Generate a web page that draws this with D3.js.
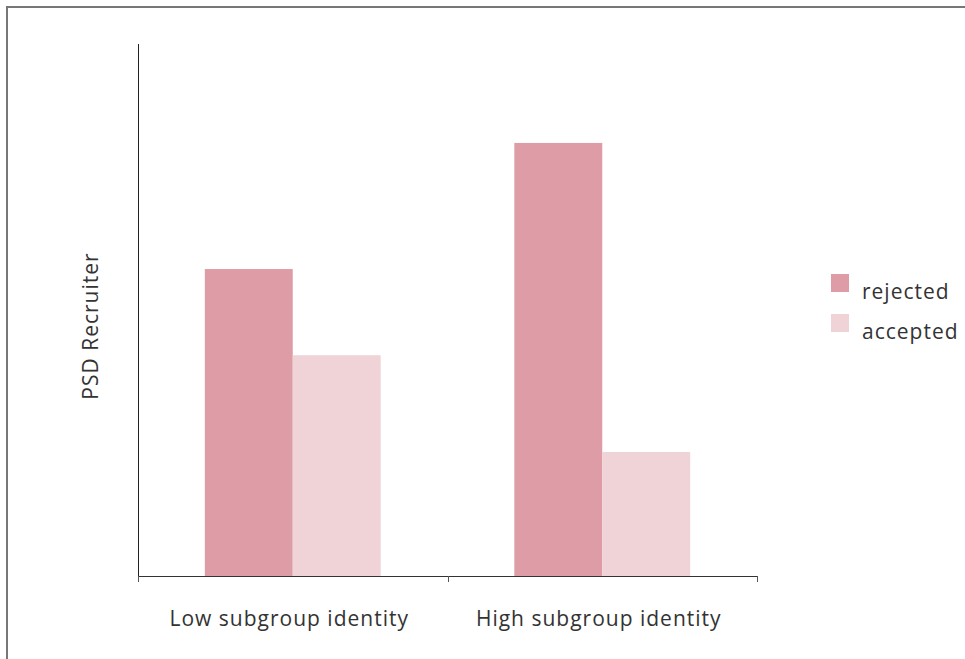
<!DOCTYPE html>
<html><head><meta charset="utf-8">
<script src="https://cdn.jsdelivr.net/npm/d3@7"></script>
<style>body{margin:0;background:#fff}svg{display:block}text{font-family:"Open Sans",sans-serif;fill:#333;letter-spacing:1px}</style>
</head><body>
<script>
const categories = ["Low subgroup identity", "High subgroup identity"];
const seriesNames = ["rejected", "accepted"];
const rejected = [0.577, 0.814];
const accepted = [0.415, 0.233];
const colors = ["#dd9ca6", "#f0d3d7"];
const yLabel = "PSD Recruiter";

(function () {
const W = 965, H = 659;
const svg = d3.select("body").append("svg").attr("width", W).attr("height", H);

// frame
svg.append("rect").attr("x", 7).attr("y", 7).attr("width", 1000).attr("height", 1000)
  .attr("fill", "none").attr("stroke", "#777").attr("stroke-width", 2);

const mLeft = 138, mRight = 757, mTop = 44, mBottom = 576;
const x = d3.scaleBand().domain(categories).range([mLeft, mRight]).paddingInner(0).paddingOuter(0);
const x1 = d3.scaleBand().domain(seriesNames).range([0, x.bandwidth()]).paddingInner(0).paddingOuter(0.76);
const y = d3.scaleLinear().domain([0, 1]).range([mBottom, mTop]);

const data = categories.map((c, i) => ({cat: c, vals: [rejected[i], accepted[i]]}));
const g = svg.append("g");
data.forEach(d => {
  d.vals.forEach((v, j) => {
    g.append("rect")
      .attr("x", x(d.cat) + x1(seriesNames[j]))
      .attr("y", y(v))
      .attr("width", x1.bandwidth())
      .attr("height", y(0) - y(v))
      .attr("fill", colors[j]);
  });
});

// axes
const xAxis = svg.append("g").attr("transform", `translate(0,${mBottom})`);
xAxis.append("line").attr("x1", mLeft).attr("x2", mRight).attr("y1", 0.5).attr("y2", 0.5).attr("stroke", "#333");
const tickPos = [mLeft, ...categories.map(c => x(c) + x.bandwidth())];
tickPos.forEach(p => xAxis.append("line").attr("x1", Math.round(p) + 0.5).attr("x2", Math.round(p) + 0.5)
  .attr("y1", 0).attr("y2", 6).attr("stroke", "#555"));
categories.forEach(c => xAxis.append("text").attr("x", x(c) + x.bandwidth() / 2 - 3.5).attr("y", 50)
  .attr("text-anchor", "middle").attr("font-size", 21).text(c));

svg.append("line").attr("x1", mLeft + 0.5).attr("x2", mLeft + 0.5).attr("y1", mTop).attr("y2", mBottom)
  .attr("stroke", "#222");

svg.append("text").attr("transform", `translate(98,${(mTop + mBottom) / 2 + 16}) rotate(-90)`)
  .attr("text-anchor", "middle").attr("font-size", 21).text(yLabel);

// legend
const lg = svg.append("g").attr("transform", "translate(831,274)");
seriesNames.forEach((s, i) => {
  lg.append("rect").attr("x", 0).attr("y", i * 40).attr("width", 18).attr("height", 18).attr("fill", colors[i]);
  lg.append("text").attr("x", 31).attr("y", i * 40 + 25).attr("font-size", 21).text(s);
});
})();
</script>
</body></html>
